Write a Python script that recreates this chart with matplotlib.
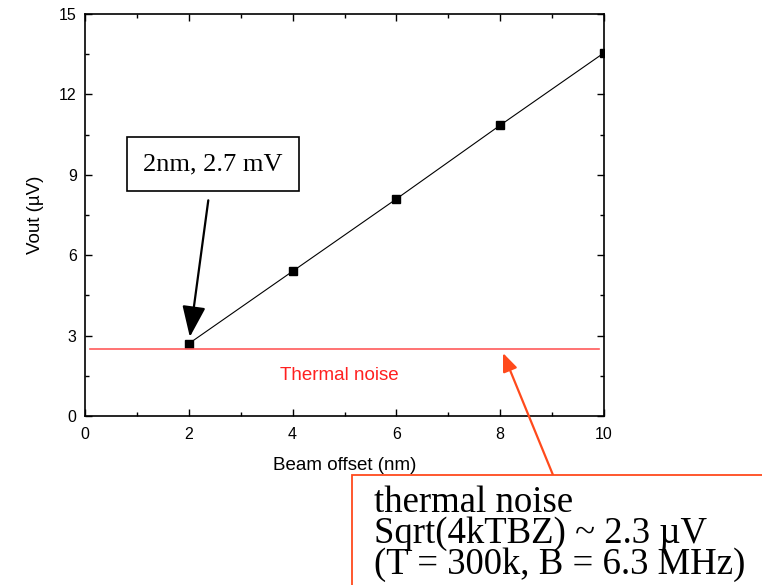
import matplotlib

matplotlib.use("Agg")
import matplotlib.pyplot as plt
from matplotlib.patches import Rectangle

# data
offset_nm = [2, 4, 6, 8, 10]
vout_uv = [2.7, 5.4, 8.1, 10.85, 13.55]
noise_x = [0.1, 9.9]
noise_level = [2.5, 2.5]

x_ticks = [0, 2, 4, 6, 8, 10]
y_ticks = [0, 3, 6, 9, 12, 15]

SANS = ["Liberation Sans", "DejaVu Sans"]
SERIF = ["Liberation Serif", "DejaVu Serif"]
NOISE_RED = "#ff5a5a"
BOX_RED = "#ff4a1c"


def main() -> None:
    plt.rcParams["font.family"] = SANS
    fig = plt.figure(figsize=(7.62, 5.85), dpi=100)
    ax = fig.add_axes([85 / 762, 1 - 416 / 585, (604 - 85) / 762, (416 - 14) / 585])

    ax.plot(offset_nm, vout_uv, color="black", linewidth=0.8, marker="s",
            markersize=6, markerfacecolor="black", markeredgecolor="black")
    ax.plot(noise_x, noise_level, color=NOISE_RED, linewidth=1.2)
    ax.text(4.9, 1.5, "Thermal noise", color="#ff2020", fontsize=13.5,
            ha="center", va="center")

    ax.set_xlim(0, 10)
    ax.set_ylim(0, 15)
    ax.set_xticks(x_ticks)
    ax.set_yticks(y_ticks)
    ax.set_xticks([1, 3, 5, 7, 9], minor=True)
    ax.set_yticks([1.5, 4.5, 7.5, 10.5, 13.5], minor=True)
    ax.tick_params(which="both", direction="in", top=True, right=True,
                   labelsize=11.5, width=1.0)
    ax.tick_params(which="major", length=5)
    ax.tick_params(which="minor", length=3)
    ax.tick_params(axis="x", which="major", pad=8)
    ax.tick_params(axis="y", which="major", pad=6)
    for spine in ax.spines.values():
        spine.set_linewidth(1.2)
    ax.set_xlabel("Beam offset (nm)", fontsize=13.5, labelpad=11)
    ax.set_ylabel("Vout (\u00b5V)", fontsize=13.5, labelpad=11)

    # black callout for the first point
    ax.annotate("2nm, 2.7 mV", xy=(2.02, 2.95), xytext=(2.47, 9.4),
                fontsize=19, family=SERIF, ha="center", va="center",
                bbox=dict(boxstyle="square,pad=0.62", facecolor="white",
                          edgecolor="black", linewidth=1.2),
                arrowprops=dict(arrowstyle="-|>,head_length=1.0,head_width=0.38",
                                color="black", linewidth=1.6, shrinkA=6, shrinkB=0))

    # red box with the noise estimate, running off the page
    box = Rectangle((352 / 762, -0.05), 0.6, 1 - 475 / 585 + 0.05,
                    transform=fig.transFigure, facecolor="white",
                    edgecolor=BOX_RED, linewidth=1.3, clip_on=False)
    fig.add_artist(box)
    fig.text(374 / 762, 1 - 486 / 585,
             "thermal noise\nSqrt(4kTBZ) ~ 2.3 \u00b5V\n(T = 300k, B = 6.3 MHz)",
             fontsize=26.5, family=SERIF, ha="left", va="top", linespacing=0.86)
    ax.annotate("", xy=(503 / 762, 1 - 353 / 585), xycoords="figure fraction",
                xytext=(553 / 762, 1 - 475 / 585), textcoords="figure fraction",
                arrowprops=dict(arrowstyle="-|>,head_length=1.1,head_width=0.45",
                                color=BOX_RED, linewidth=1.6, shrinkA=0, shrinkB=0),
                annotation_clip=False)

    fig.savefig("out.png", dpi=100)
    plt.close(fig)


if __name__ == "__main__":
    main()
